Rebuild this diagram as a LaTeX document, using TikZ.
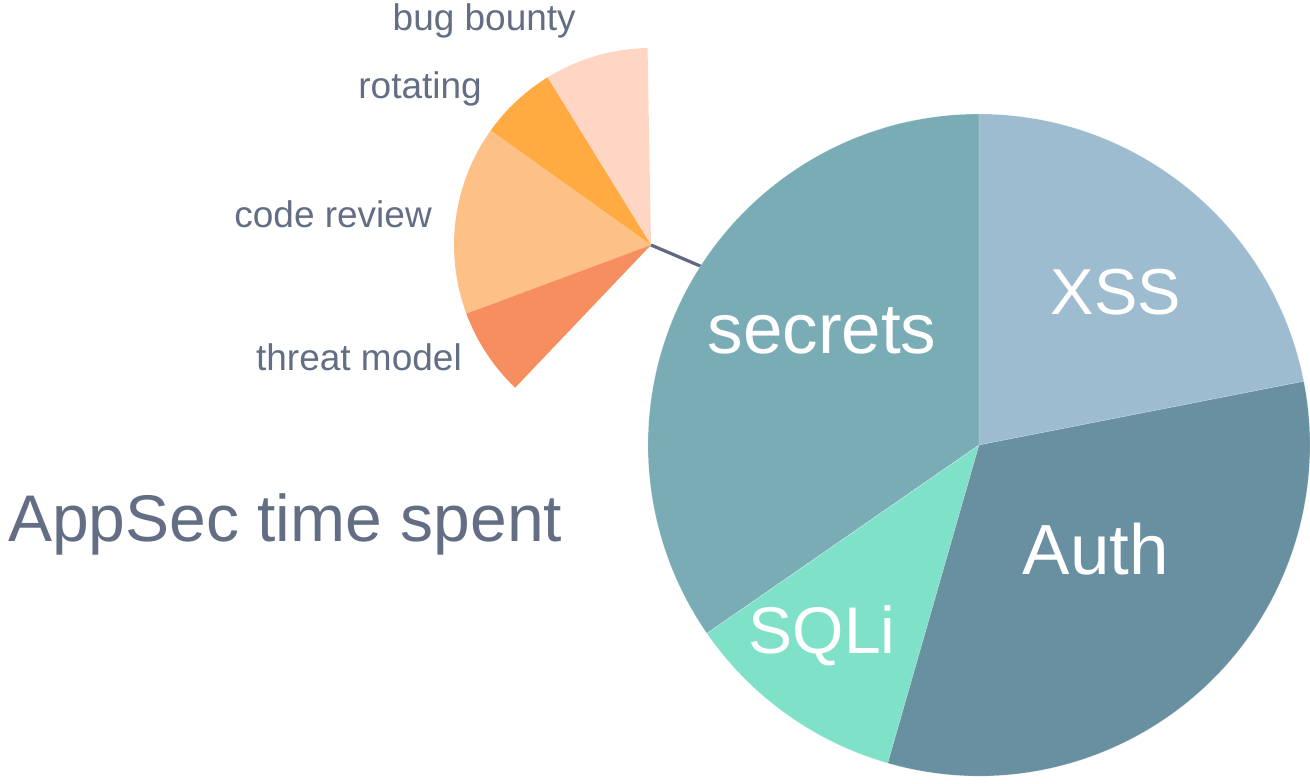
\documentclass[tikz,border=0pt]{standalone}
\usepackage{fontspec}
\usetikzlibrary{calc}
\setmainfont{Liberation Sans}
\definecolor{cXSS}{HTML}{9DBCCF}
\definecolor{cSecrets}{HTML}{7AACB6}
\definecolor{cAuth}{HTML}{6990A1}
\definecolor{cSQLi}{HTML}{80E1C9}
\definecolor{cBounty}{HTML}{FFD5C4}
\definecolor{cRotating}{HTML}{FFAB42}
\definecolor{cReview}{HTML}{FDC087}
\definecolor{cThreat}{HTML}{F68E5F}
\definecolor{cText}{HTML}{636E84}
\definecolor{cLink}{HTML}{5F6880}
\begin{document}
\begin{tikzpicture}[x=1pt,y=1pt,
  slicelabel/.style={text=white,anchor=base,inner sep=0pt,font=\fontsize{68}{72}\selectfont},
  fanlabel/.style={text=cText,anchor=base east,inner sep=0pt,font=\fontsize{37}{40}\selectfont},
  titlelabel/.style={text=cText,anchor=base west,inner sep=0pt,font=\fontsize{66}{70}\selectfont},
  mainslice/.style={draw=white,draw opacity=0.5,line width=0.3pt,line join=round},
  fanslice/.style={draw=none}]
\useasboundingbox (0,0) rectangle (1310,-784);

% centres of the two charts
\coordinate (mainc) at (979,-445);
\coordinate (fanc) at (651,-245);
\coordinate (linkend) at ($(mainc)+(147.2:328)$);

% link from the breakdown fan to the main pie
\draw[cLink,line width=3.2pt] (fanc) -- (linkend);

% main pie (radius 331)
\fill[cXSS,mainslice] (mainc) -- ++(11.1:331) arc[start angle=11.1,end angle=90,radius=331] -- cycle;
\fill[cSecrets,mainslice] (mainc) -- ++(90:331) arc[start angle=90,end angle=214.7,radius=331] -- cycle;
\fill[cSQLi,mainslice] (mainc) -- ++(214.7:331) arc[start angle=214.7,end angle=254,radius=331] -- cycle;
\fill[cAuth,mainslice] (mainc) -- ++(-106:331) arc[start angle=-106,end angle=11.1,radius=331] -- cycle;

% breakdown fan (radius 197)
\fill[cBounty,fanslice] (fanc) -- ++(91:197) arc[start angle=91,end angle=121.7,radius=197] -- cycle;
\fill[cRotating,fanslice] (fanc) -- ++(121.7:197) arc[start angle=121.7,end angle=144.5,radius=197] -- cycle;
\fill[cReview,fanslice] (fanc) -- ++(144.5:197) arc[start angle=144.5,end angle=200.4,radius=197] -- cycle;
\fill[cThreat,fanslice] (fanc) -- ++(200.4:197) arc[start angle=200.4,end angle=226.4,radius=197] -- cycle;

% slice labels
\node[slicelabel,font=\fontsize{65}{70}\selectfont] (lxss) at (1116,-314) {XSS};
\node[slicelabel,font=\fontsize{71}{75}\selectfont] (lsecrets) at (822,-353) {secrets};
\node[slicelabel,font=\fontsize{71}{75}\selectfont] (lauth) at (1096,-574) {Auth};
\node[slicelabel,font=\fontsize{66}{70}\selectfont] (lsqli) at (822,-653) {SQLi};

% fan labels
\node[fanlabel] (lbounty) at (576,-31) {bug bounty};
\node[fanlabel] (lrotating) at (482,-99) {rotating};
\node[fanlabel] (lreview) at (432,-227) {code review};
\node[fanlabel] (lthreat) at (462,-370) {threat model};

% title
\node[titlelabel] (title) at (8,-541) {AppSec time spent};
\end{tikzpicture}
\end{document}
